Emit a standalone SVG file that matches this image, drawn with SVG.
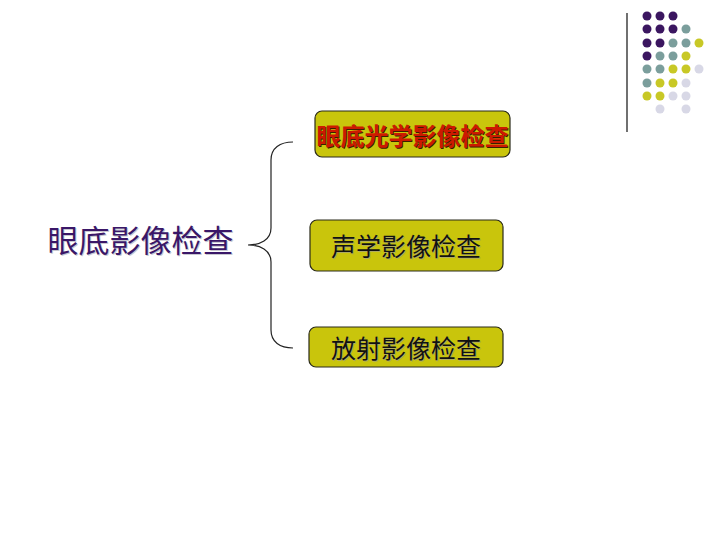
<svg xmlns="http://www.w3.org/2000/svg" width="720" height="540" viewBox="0 0 720 540">
<style>
.box{fill:#c9c50c;stroke:#2a2a1a;stroke-width:1.2}
.t{font-family:"Noto Sans CJK SC","Noto Sans CJK TC",sans-serif;text-anchor:middle;dominant-baseline:central}
.bt{font-size:25px;fill:#111}
.sh{fill:#b0ac60}
.dp{fill:#3b1660}.dt{fill:#7b9e9c}.dy{fill:#c8c826}.dl{fill:#d8d8e6}
</style>
<rect width="720" height="540" fill="#fff"/>
<g id="decor">
<line x1="627" y1="13" x2="627" y2="132" stroke="#111" stroke-width="1.2"/>
<g>
<circle class="dp" cx="647" cy="16" r="4.5"/><circle class="dp" cx="660" cy="16" r="4.5"/><circle class="dp" cx="673" cy="16" r="4.5"/>
<circle class="dp" cx="647" cy="29" r="4.5"/><circle class="dp" cx="660" cy="29" r="4.5"/><circle class="dp" cx="673" cy="29" r="4.5"/><circle class="dt" cx="686" cy="29" r="4.5"/>
<circle class="dp" cx="647" cy="43" r="4.5"/><circle class="dp" cx="660" cy="43" r="4.5"/><circle class="dt" cx="673" cy="43" r="4.5"/><circle class="dt" cx="686" cy="43" r="4.5"/><circle class="dy" cx="699" cy="43" r="4.5"/>
<circle class="dp" cx="647" cy="56" r="4.5"/><circle class="dt" cx="660" cy="56" r="4.5"/><circle class="dt" cx="673" cy="56" r="4.5"/><circle class="dy" cx="686" cy="56" r="4.5"/>
<circle class="dt" cx="647" cy="69" r="4.5"/><circle class="dt" cx="660" cy="69" r="4.5"/><circle class="dy" cx="673" cy="69" r="4.5"/><circle class="dy" cx="686" cy="69" r="4.5"/><circle class="dl" cx="699" cy="69" r="4.5"/>
<circle class="dt" cx="647" cy="83" r="4.5"/><circle class="dy" cx="660" cy="83" r="4.5"/><circle class="dy" cx="673" cy="83" r="4.5"/><circle class="dl" cx="686" cy="83" r="4.5"/>
<circle class="dy" cx="647" cy="96" r="4.5"/><circle class="dy" cx="660" cy="96" r="4.5"/><circle class="dl" cx="673" cy="96" r="4.5"/><circle class="dl" cx="686" cy="96" r="4.5"/>
<circle class="dl" cx="660" cy="109" r="4.5"/><circle class="dl" cx="686" cy="109" r="4.5"/>
</g>
</g>
<g id="root">
<text class="t" x="141.5" y="239.5" font-size="31" fill="#c8c8d0">眼底影像检查</text>
<text class="t" x="140.5" y="238.5" font-size="31" fill="#3a1768">眼底影像检查</text>
</g>
<g id="connectors">
<path d="M293,142 C280,142 271,148 271,160 L271,228 C271,240 260,245 248,245 C260,245 271,250 271,262 L271,330 C271,342 280,348 293,348" fill="none" stroke="#222" stroke-width="1.2"/>
</g>
<g id="n1">
<rect class="box" x="315" y="111" width="195" height="46" rx="7"/>
<text class="t" x="413.5" y="135.5" font-size="24" font-weight="bold" fill="#3a2000">眼底光学影像检查</text>
<text class="t" x="412.5" y="134.5" font-size="24" font-weight="bold" fill="#cc1a00">眼底光学影像检查</text>
</g>
<g id="n2">
<rect class="box" x="310" y="220" width="193" height="51" rx="7"/>
<text class="t sh" x="407" y="246" font-size="25">声学影像检查</text>
<text class="t bt" x="406" y="245">声学影像检查</text>
</g>
<g id="n3">
<rect class="box" x="309" y="327" width="194" height="40" rx="7"/>
<text class="t sh" x="407" y="348" font-size="25">放射影像检查</text>
<text class="t bt" x="406" y="347">放射影像检查</text>
</g>
</svg>
